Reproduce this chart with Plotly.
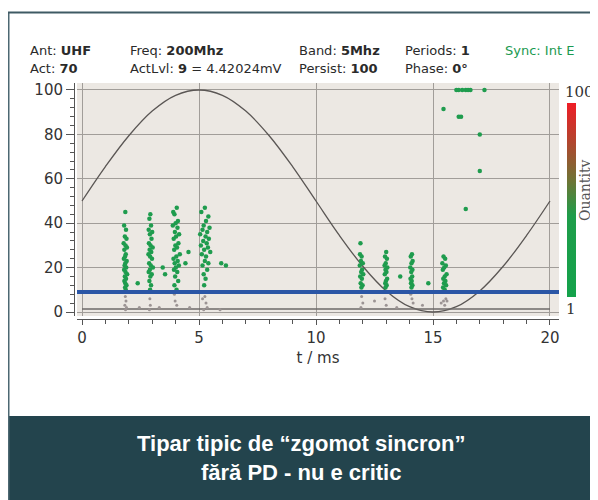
import plotly.graph_objects as go

# ---------------- data ----------------
sine_t = list(range(0, 21))
sine_v = [50, 65.5, 79.4, 90.5, 97.6, 100, 97.6, 90.5, 79.4, 65.5, 50,
          34.5, 20.6, 9.5, 2.4, 0, 2.4, 9.5, 20.6, 34.5, 50]

threshold_level = 9
baseline_level = 1.3

green_t = [
    # cluster ~2 ms
    1.85, 1.80, 1.88, 1.83, 1.90, 1.78, 1.86, 1.92, 1.81, 1.87, 1.84, 1.79, 1.91, 1.85,
    1.82, 1.89, 1.80, 1.86, 1.93, 1.83, 1.88, 1.81, 1.85, 1.90, 1.84, 1.87, 2.38,
    # cluster ~3 ms
    2.92, 2.88, 2.95, 2.85, 3.00, 2.90, 2.97, 2.86, 2.93, 3.02, 2.89, 2.96, 2.84, 2.91,
    2.99, 2.87, 2.94, 3.03, 2.90, 2.85, 2.98, 2.92, 2.88, 2.95, 2.91, 3.45, 3.55,
    # cluster ~4 ms
    3.90, 4.05, 3.95, 4.10, 4.00, 3.88, 4.08, 3.97, 4.15, 4.02, 3.92, 4.12, 3.99, 4.06,
    3.94, 4.18, 4.03, 3.91, 4.09, 3.96, 4.14, 4.01, 3.93, 4.07, 3.98, 4.11, 3.95, 4.04,
    4.55, 4.42,
    # cluster ~5.3 ms
    5.25, 5.10, 5.40, 5.30, 5.20, 5.45, 5.15, 5.35, 5.05, 5.28, 5.42, 5.18, 5.33, 5.08,
    5.38, 5.22, 5.48, 5.12, 5.30, 5.25, 5.40, 5.15, 5.35, 5.20, 5.28, 5.22, 5.95, 6.15,
    # cluster ~12 ms
    11.90, 11.88, 11.95, 11.92, 12.00, 11.87, 11.97, 11.93, 12.02, 11.89, 11.96, 11.91,
    11.99, 11.94,
    # cluster ~13 ms
    13.00, 12.95, 13.03, 12.98, 12.93, 13.05, 12.97, 13.01, 12.94, 13.04, 12.99, 12.96,
    13.02, 12.97, 13.60,
    # cluster ~14 ms
    14.10, 14.05, 14.13, 14.08, 14.03, 14.12, 14.07, 14.11, 14.04, 14.09, 14.06, 14.12,
    14.08, 14.80,
    # cluster ~15.5 ms
    15.45, 15.52, 15.40, 15.55, 15.48, 15.42, 15.58, 15.50, 15.44, 15.53, 15.47, 15.56,
    15.43, 15.50,
    # upper sparse points
    16.00, 16.10, 16.25, 16.40, 16.50, 16.60, 17.20, 15.45, 16.10, 16.20, 17.00, 17.00,
    16.40,
]
green_v = [
    45, 39, 37, 34, 33, 31, 30, 29, 28, 26, 25, 24, 23, 22,
    21, 20, 19, 18, 17, 16, 15, 14, 13, 12, 11, 10, 13,
    44, 42, 39, 37, 36, 35, 33, 31, 30, 29, 28, 27, 26, 25,
    24, 22, 21, 20, 19, 18, 17, 16, 14, 12, 10, 20, 17,
    45, 47, 44, 41, 40, 39, 38, 36, 35, 34, 33, 31, 30, 29,
    28, 26, 25, 24, 23, 22, 21, 20, 19, 18, 16, 14, 12, 10,
    27, 22,
    47, 45, 43, 41, 39, 38, 37, 36, 35, 34, 33, 32, 31, 30,
    29, 28, 27, 26, 25, 23, 22, 21, 19, 17, 15, 12, 22, 21,
    31, 26, 25, 23, 22, 21, 19, 18, 17, 16, 15, 13, 12, 11,
    27, 25, 24, 22, 21, 20, 19, 18, 17, 15, 14, 13, 12, 11, 16,
    26, 25, 23, 22, 20, 19, 18, 16, 15, 14, 13, 12, 11, 13,
    25, 24, 22, 21, 20, 19, 17, 16, 15, 14, 13, 12, 11, 10,
    100, 100, 100, 100, 100, 100, 100, 91.4, 88, 88, 80, 63.5,
    46.4,
]

gray_t = [1.85, 1.88, 1.83, 1.90, 1.86, 2.45, 2.90, 2.92, 2.88, 3.30, 3.95, 3.98, 4.05,
          4.60, 5.15, 5.25, 5.30, 5.35, 5.20, 5.90, 11.95, 12.00, 11.92, 12.50, 12.95,
          13.00, 13.45, 14.05, 14.10, 14.15, 14.55, 15.35, 15.45, 15.55, 15.60, 15.50]
gray_v = [7, 5, 3, 2, 1, 2, 6, 3, 1, 2, 8, 5, 3, 2, 6, 7, 4, 2, 1, 1,
          7, 4, 2, 5, 6, 3, 2, 8, 6, 4, 3, 4, 5, 6, 5, 3]

x_ticks = [0, 5, 10, 15, 20]
y_ticks = [0, 20, 40, 60, 80, 100]

header = [
    ("Ant: <b>UHF</b>", "Act: <b>70</b>"),
    ("Freq: <b>200Mhz</b>", "ActLvl: <b>9</b> = 4.42024mV"),
    ("Band: <b>5Mhz</b>", "Persist: <b>100</b>"),
    ("Periods: <b>1</b>", "Phase: <b>0°</b>"),
]
header_x = [28, 128, 297, 403]
sync_text = "Sync: Int E"
banner_text = "<b>Tipar tipic de “zgomot sincron”<br>fără PD - nu e critic</b>"

# ---------------- layout helpers ----------------
# The page places the figure 8 px from the window's top-left corner,
# so the figure is 8 px smaller and all reference pixels are shifted by 8.
OFF = 8
W, H = 598 - OFF, 500 - OFF
PL, PR, PT, PB = 74, 559, 83, 319          # plot area in reference pixels
ML, MT = PL - OFF, PT - OFF
MR, MB = W - (PR - OFF), H - (PB - OFF)
PW, PH = PR - PL, PB - PT


def px(x):
    return (x - PL) / PW


def py(y):
    return (PB - y) / PH


fig = go.Figure()

fig.add_trace(go.Scatter(x=sine_t, y=sine_v, mode="lines",
                         line=dict(color="#5a5654", width=1.3, shape="spline"),
                         hoverinfo="skip", showlegend=False))
fig.add_trace(go.Scatter(x=[sine_t[0], sine_t[-1]], y=[baseline_level] * 2, mode="lines",
                         line=dict(color="#6e6a68", width=1.5), showlegend=False))
fig.add_trace(go.Scatter(x=gray_t, y=gray_v, mode="markers",
                         marker=dict(color="#9c9494", size=3), showlegend=False))
fig.add_trace(go.Scatter(x=green_t, y=green_v, mode="markers",
                         marker=dict(color="#1f9c4e", size=4.5), showlegend=False))
fig.add_trace(go.Scatter(x=[sine_t[0] - 0.3, sine_t[-1] + 0.5], y=[threshold_level] * 2,
                         mode="lines", line=dict(color="#2b56a6", width=4),
                         showlegend=False))

# colorbar only
cscale = [[0, "#14a24b"], [0.42, "#1f9d4a"], [0.6, "#6f7435"], [0.8, "#b2452e"], [1, "#ef1d26"]]
fig.add_trace(go.Scatter(x=[None, None], y=[None, None], mode="markers",
                         marker=dict(color=[1, 100], cmin=1, cmax=100, colorscale=cscale,
                                     showscale=True,
                                     colorbar=dict(thickness=9, thicknessmode="pixels",
                                                   len=194, lenmode="pixels",
                                                   x=px(567), xanchor="left", xpad=0,
                                                   y=py(200), yanchor="middle", ypad=0,
                                                   outlinewidth=0, showticklabels=False,
                                                   ticks="")),
                         showlegend=False))

annotations = []
for (l1, l2), hx in zip(header, header_x):
    annotations.append(dict(text=l1, x=px(hx), y=py(51), xref="paper", yref="paper",
                            xanchor="left", yanchor="middle", showarrow=False,
                            font=dict(family="DejaVu Sans", size=13, color="#2a2a2a")))
    annotations.append(dict(text=l2, x=px(hx), y=py(69), xref="paper", yref="paper",
                            xanchor="left", yanchor="middle", showarrow=False,
                            font=dict(family="DejaVu Sans", size=13, color="#2a2a2a")))
annotations.append(dict(text=sync_text, x=px(503), y=py(51), xref="paper", yref="paper",
                        xanchor="left", yanchor="middle", showarrow=False,
                        font=dict(family="DejaVu Sans", size=13, color="#1a9a50")))
annotations.append(dict(text="100", x=px(579), y=py(92), xref="paper", yref="paper",
                        xanchor="center", yanchor="middle", showarrow=False,
                        font=dict(family="DejaVu Serif", size=15, color="#333")))
annotations.append(dict(text="1", x=px(571), y=py(309), xref="paper", yref="paper",
                        xanchor="center", yanchor="middle", showarrow=False,
                        font=dict(family="DejaVu Serif", size=15, color="#333")))
annotations.append(dict(text="Quantity", x=px(585), y=py(190), xref="paper", yref="paper",
                        xanchor="center", yanchor="middle", showarrow=False, textangle=-90,
                        font=dict(family="DejaVu Serif", size=14, color="#555")))
annotations.append(dict(text=banner_text, x=px(301), y=py(458), xref="paper", yref="paper",
                        xanchor="center", yanchor="middle", showarrow=False,
                        font=dict(family="Liberation Sans", size=22, color="white")))

shapes = [
    dict(type="rect", xref="paper", yref="paper", x0=px(8), x1=px(610), y0=py(416), y1=py(510),
         fillcolor="#23444d", line=dict(width=0), layer="below"),
    dict(type="line", xref="paper", yref="paper", x0=px(8.5), x1=px(8.5), y0=py(12), y1=py(510),
         line=dict(color="#4d6872", width=2)),
    dict(type="line", xref="paper", yref="paper", x0=px(8), x1=px(610), y0=py(12.5), y1=py(12.5),
         line=dict(color="#3f5a64", width=2)),
]

fig.update_layout(
    width=W, height=H,
    margin=dict(l=ML, r=MR, t=MT, b=MB, pad=0),
    paper_bgcolor="white",
    plot_bgcolor="#ece8e3",
    annotations=annotations,
    shapes=shapes,
    showlegend=False,
    font=dict(family="DejaVu Sans", color="#333"),
)
fig.update_xaxes(
    domain=[3 / PW, 1], range=[-0.214, 20.385], anchor="free", position=0,
    tickvals=x_ticks, ticks="outside", ticklen=5, tickcolor="#555",
    showline=True, linecolor="#555", linewidth=1,
    minor=dict(dtick=1, ticks="outside", ticklen=4, tickcolor="#555", showgrid=False),
    showgrid=True, gridcolor="#a19d99", gridwidth=1, zeroline=False,
    tickfont=dict(family="DejaVu Sans", size=15, color="#333"),
    title=dict(text="t / ms", font=dict(family="DejaVu Sans", size=15, color="#333"), standoff=6),
)
fig.update_yaxes(
    domain=[3 / PH, 1], range=[-1.8, 103.15], anchor="free", position=0,
    tickvals=y_ticks, ticks="outside", ticklen=8, tickcolor="#555",
    showline=True, linecolor="#555", linewidth=1,
    minor=dict(dtick=4, ticks="outside", ticklen=4, tickcolor="#555", showgrid=False),
    showgrid=True, gridcolor="#a19d99", gridwidth=1, zeroline=False,
    tickfont=dict(family="DejaVu Sans", size=15, color="#333"),
)

fig.write_html("out.html")
